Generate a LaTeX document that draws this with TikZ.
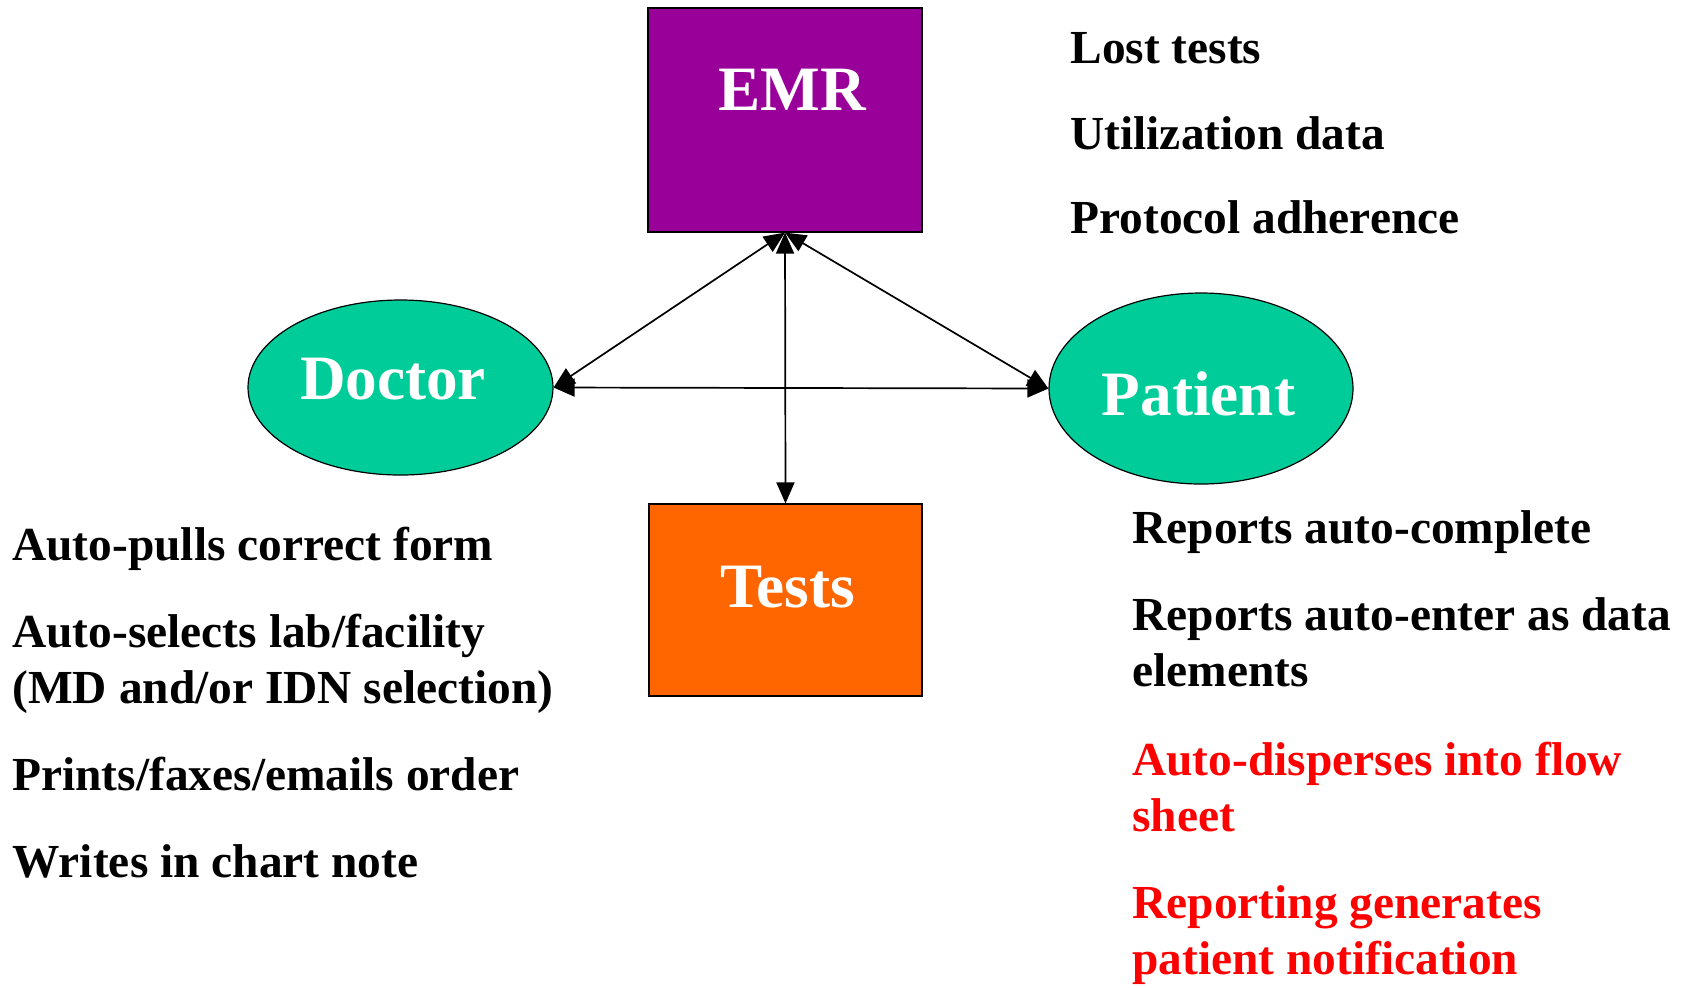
\documentclass[tikz,border=0pt]{standalone}
\usepackage{fontspec}
\setmainfont{Liberation Serif}
\usepackage{xcolor}
\usepackage{tikz}
\usetikzlibrary{arrows.meta}
\usetikzlibrary{shapes.geometric}
\definecolor{emrpurple}{RGB}{153,0,153}
\definecolor{testorange}{RGB}{255,102,0}
\definecolor{roleteal}{RGB}{0,204,153}
\colorlet{notered}{red}
\newcommand\bigfont{\fontsize{31.6}{36}\selectfont\bfseries}
\newcommand\notefont{\fontsize{23.7}{28}\selectfont\bfseries}
\newcommand\twolines[2]{\vtop{\hbox{#1}\hbox{#2}}}
\tikzstyle{boxnode}=[draw=black,line width=.6pt,inner sep=0pt]
\tikzstyle{rolenode}=[ellipse,draw=black,line width=.6pt,fill=roleteal,inner sep=0pt]
\tikzstyle{bigtext}=[text=white,anchor=base,font=\bigfont,inner sep=0pt]
\tikzstyle{notetext}=[anchor=base west,font=\notefont,inner sep=0pt]
\tikzstyle{arrowhead}=[>/.tip={Triangle[length=10.5pt,width=9pt]}]
\tikzstyle{arrowlink}=[line width=.85pt,arrowhead,<->]

\begin{document}
\begin{tikzpicture}[x=0.5pt,y=-0.5pt]
	\useasboundingbox (0,0) rectangle (1695,987);
	% boxes and roles
	\node[boxnode,fill=emrpurple,minimum width=137pt,minimum height=112pt] (emr) at (785,120) {};
	\node[boxnode,fill=testorange,minimum width=136.5pt,minimum height=96pt] (tests) at (785.5,600) {};
	\node[rolenode,minimum width=152.5pt,minimum height=87.5pt] (doctor) at (400.5,387.5) {};
	\node[rolenode,minimum width=152pt,minimum height=95.5pt] (patient) at (1201,388.5) {};
	\node[bigtext] (emr text) at (792,110) {EMR};
	\node[bigtext] (tests text) at (787.5,607) {Tests};
	\node[bigtext] (doctor text) at (393,399) {Doctor};
	\node[bigtext] (patient text) at (1198.5,415) {Patient};
	% links
	\draw[arrowlink] (emr.south) -- (doctor.east);
	\draw[arrowlink] (emr.south) -- (patient.west);
	\draw[arrowlink] (emr.south) -- (tests.north);
	\draw[arrowlink] (doctor.east) -- (patient.west);
	% EMR notes
	\node[notetext] (lost) at (1070,63) {Lost tests};
	\node[notetext] (util) at (1070,149) {Utilization data};
	\node[notetext] (proto) at (1070,233) {Protocol adherence};
	% doctor notes
	\node[notetext] (pulls) at (12,560) {Auto-pulls correct form};
	\node[notetext] (selects) at (12,647) {\twolines{Auto-selects lab/facility}{(MD and/or IDN selection)}};
	\node[notetext] (prints) at (12,790) {Prints/faxes/emails order};
	\node[notetext] (writes) at (12,877) {Writes in chart note};
	% patient notes
	\node[notetext] (complete) at (1132,543) {Reports auto-complete};
	\node[notetext] (enter) at (1132,630) {\twolines{Reports auto-enter as data}{elements}};
	\node[notetext,text=notered] (disperse) at (1132,775) {\twolines{Auto-disperses into flow}{sheet}};
	\node[notetext,text=notered] (notify) at (1132,918) {\twolines{Reporting generates}{patient notification}};
\end{tikzpicture}
\end{document}
